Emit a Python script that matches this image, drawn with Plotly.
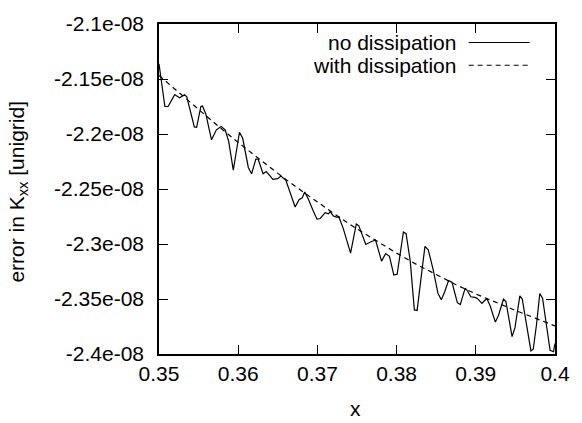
import plotly.graph_objects as go

# error values are given in units of 1e-8
SCALE = 1e-8

# run without dissipation (noisy)
x_nodiss = [
    0.35000, 0.35074, 0.35115, 0.35198, 0.35260, 0.35322, 0.35351, 0.35446,
    0.35475, 0.35529, 0.35549, 0.35591, 0.35663, 0.35725, 0.35784, 0.35836,
    0.35880, 0.35938, 0.36016, 0.36057, 0.36128, 0.36169, 0.36223, 0.36252,
    0.36314, 0.36354, 0.36397, 0.36437, 0.36499, 0.36540, 0.36602, 0.36664,
    0.36719, 0.36768, 0.36809, 0.36840, 0.36884, 0.36945, 0.36995, 0.37036,
    0.37098, 0.37140, 0.37160, 0.37202, 0.37243, 0.37271, 0.37326, 0.37419,
    0.37491, 0.37522, 0.37611, 0.37677, 0.37734, 0.37810, 0.37862, 0.37910,
    0.37965, 0.38007, 0.38086, 0.38120, 0.38172, 0.38224, 0.38259, 0.38317,
    0.38358, 0.38399, 0.38461, 0.38523, 0.38565, 0.38606, 0.38656, 0.38699,
    0.38736, 0.38767, 0.38804, 0.38866, 0.38895, 0.38937, 0.38990, 0.39019,
    0.39077, 0.39139, 0.39182, 0.39247, 0.39287, 0.39349, 0.39380, 0.39458,
    0.39494, 0.39556, 0.39587, 0.39638, 0.39696, 0.39725, 0.39767, 0.39808,
    0.39843, 0.39895, 0.39938, 0.39981, 0.40000,
]
err_nodiss = [
    -2.1362, -2.1750, -2.1750, -2.1642, -2.1671, -2.1644, -2.1662, -2.1936,
    -2.1940, -2.1750, -2.1746, -2.1818, -2.2053, -2.1962, -2.1931, -2.1962,
    -2.2068, -2.2328, -2.1984, -2.2039, -2.2304, -2.2362, -2.2229, -2.2229,
    -2.2362, -2.2342, -2.2377, -2.2412, -2.2406, -2.2383, -2.2421, -2.2553,
    -2.2664, -2.2598, -2.2580, -2.2527, -2.2589, -2.2695, -2.2774, -2.2768,
    -2.2715, -2.2726, -2.2706, -2.2745, -2.2756, -2.2754, -2.2858, -2.3083,
    -2.2818, -2.2833, -2.3004, -2.2980, -2.2964, -2.3156, -2.3087, -2.3112,
    -2.3282, -2.3275, -2.2891, -2.2906, -2.3154, -2.3599, -2.3604, -2.3260,
    -2.3021, -2.3052, -2.3230, -2.3451, -2.3507, -2.3436, -2.3333, -2.3348,
    -2.3436, -2.3533, -2.3551, -2.3401, -2.3427, -2.3480, -2.3485, -2.3495,
    -2.3539, -2.3495, -2.3564, -2.3710, -2.3648, -2.3502, -2.3524, -2.3842,
    -2.3763, -2.3471, -2.3502, -2.3730, -2.3972, -2.3957, -2.3730, -2.3451,
    -2.3493, -2.3752, -2.3966, -2.3979, -2.3904,
]

# run with dissipation (smooth)
x_diss = [
    0.3500, 0.3525, 0.3550, 0.3575, 0.3600, 0.3625, 0.3650, 0.3675, 0.3700,
    0.3725, 0.3750, 0.3775, 0.3800, 0.3825, 0.3850, 0.3875, 0.3900, 0.3925,
    0.3950, 0.3975, 0.4000,
]
err_diss = [
    -2.1468, -2.1625, -2.1780, -2.1930, -2.2077, -2.2220, -2.2358, -2.2491,
    -2.2620, -2.2744, -2.2863, -2.2976, -2.3083, -2.3185, -2.3281, -2.3370,
    -2.3454, -2.3532, -2.3604, -2.3674, -2.3745,
]

x_ticks = [0.35, 0.36, 0.37, 0.38, 0.39, 0.40]
x_tick_labels = ["0.35", "0.36", "0.37", "0.38", "0.39", "0.4"]
y_ticks = [-2.10, -2.15, -2.20, -2.25, -2.30, -2.35, -2.40]
y_tick_labels = ["-2.1e-08", "-2.15e-08", "-2.2e-08", "-2.25e-08",
                 "-2.3e-08", "-2.35e-08", "-2.4e-08"]
series_names = ["no dissipation", "with dissipation"]

FONT = "Liberation Sans, Arial, Helvetica, sans-serif"
FS = 21

fig = go.Figure()
fig.add_trace(go.Scatter(
    x=x_nodiss, y=[v * SCALE for v in err_nodiss], mode="lines",
    line=dict(color="black", width=1.2), name=series_names[0],
    showlegend=False,
))
fig.add_trace(go.Scatter(
    x=x_diss, y=[v * SCALE for v in err_diss], mode="lines",
    line=dict(color="black", width=1.2, dash="5px,4px"), name=series_names[1],
    showlegend=False,
))

axis_common = dict(
    showline=True, linecolor="black", linewidth=1.6, mirror="allticks",
    ticks="inside", ticklen=9, tickwidth=1.3, tickcolor="black",
    showgrid=False, zeroline=False,
    tickfont=dict(family=FONT, size=FS, color="black"),
)

fig.update_xaxes(
    range=[0.35, 0.40], tickvals=x_ticks, ticktext=x_tick_labels,
    ticklabelstandoff=0, **axis_common,
)
fig.update_yaxes(
    range=[-2.40 * SCALE, -2.10 * SCALE],
    tickvals=[v * SCALE for v in y_ticks], ticktext=y_tick_labels,
    ticklabelstandoff=9, **axis_common,
)

annotations = [
    dict(text="x", x=0.495, y=-0.165, xref="paper", yref="paper",
         xanchor="center", yanchor="middle", showarrow=False,
         font=dict(family=FONT, size=FS, color="black")),
    dict(text="error in K<sub>xx</sub> [unigrid]", x=-0.357, y=0.491,
         xref="paper", yref="paper", textangle=-90,
         xanchor="center", yanchor="middle", showarrow=False,
         font=dict(family=FONT, size=FS, color="black")),
]
# legend: right-aligned labels followed by line samples
legend_rows = [0.944, 0.875]
dashes = ["solid", "5px,4px"]
shapes = []
for name, yrow, dash in zip(series_names, legend_rows, dashes):
    annotations.append(dict(
        text=name, x=0.755, y=yrow, xref="paper", yref="paper",
        xanchor="right", yanchor="middle", showarrow=False,
        font=dict(family=FONT, size=FS, color="black"),
    ))
    shapes.append(dict(
        type="line", xref="paper", yref="paper", x0=0.782, x1=0.936,
        y0=yrow, y1=yrow, line=dict(color="black", width=1.2, dash=dash),
    ))

fig.update_layout(
    width=582, height=423,
    margin=dict(l=159, r=19, t=14, b=69),
    paper_bgcolor="white", plot_bgcolor="white",
    font=dict(family=FONT, size=FS, color="black"),
    annotations=annotations, shapes=shapes,
    showlegend=False,
)

fig.write_html("out.html")
